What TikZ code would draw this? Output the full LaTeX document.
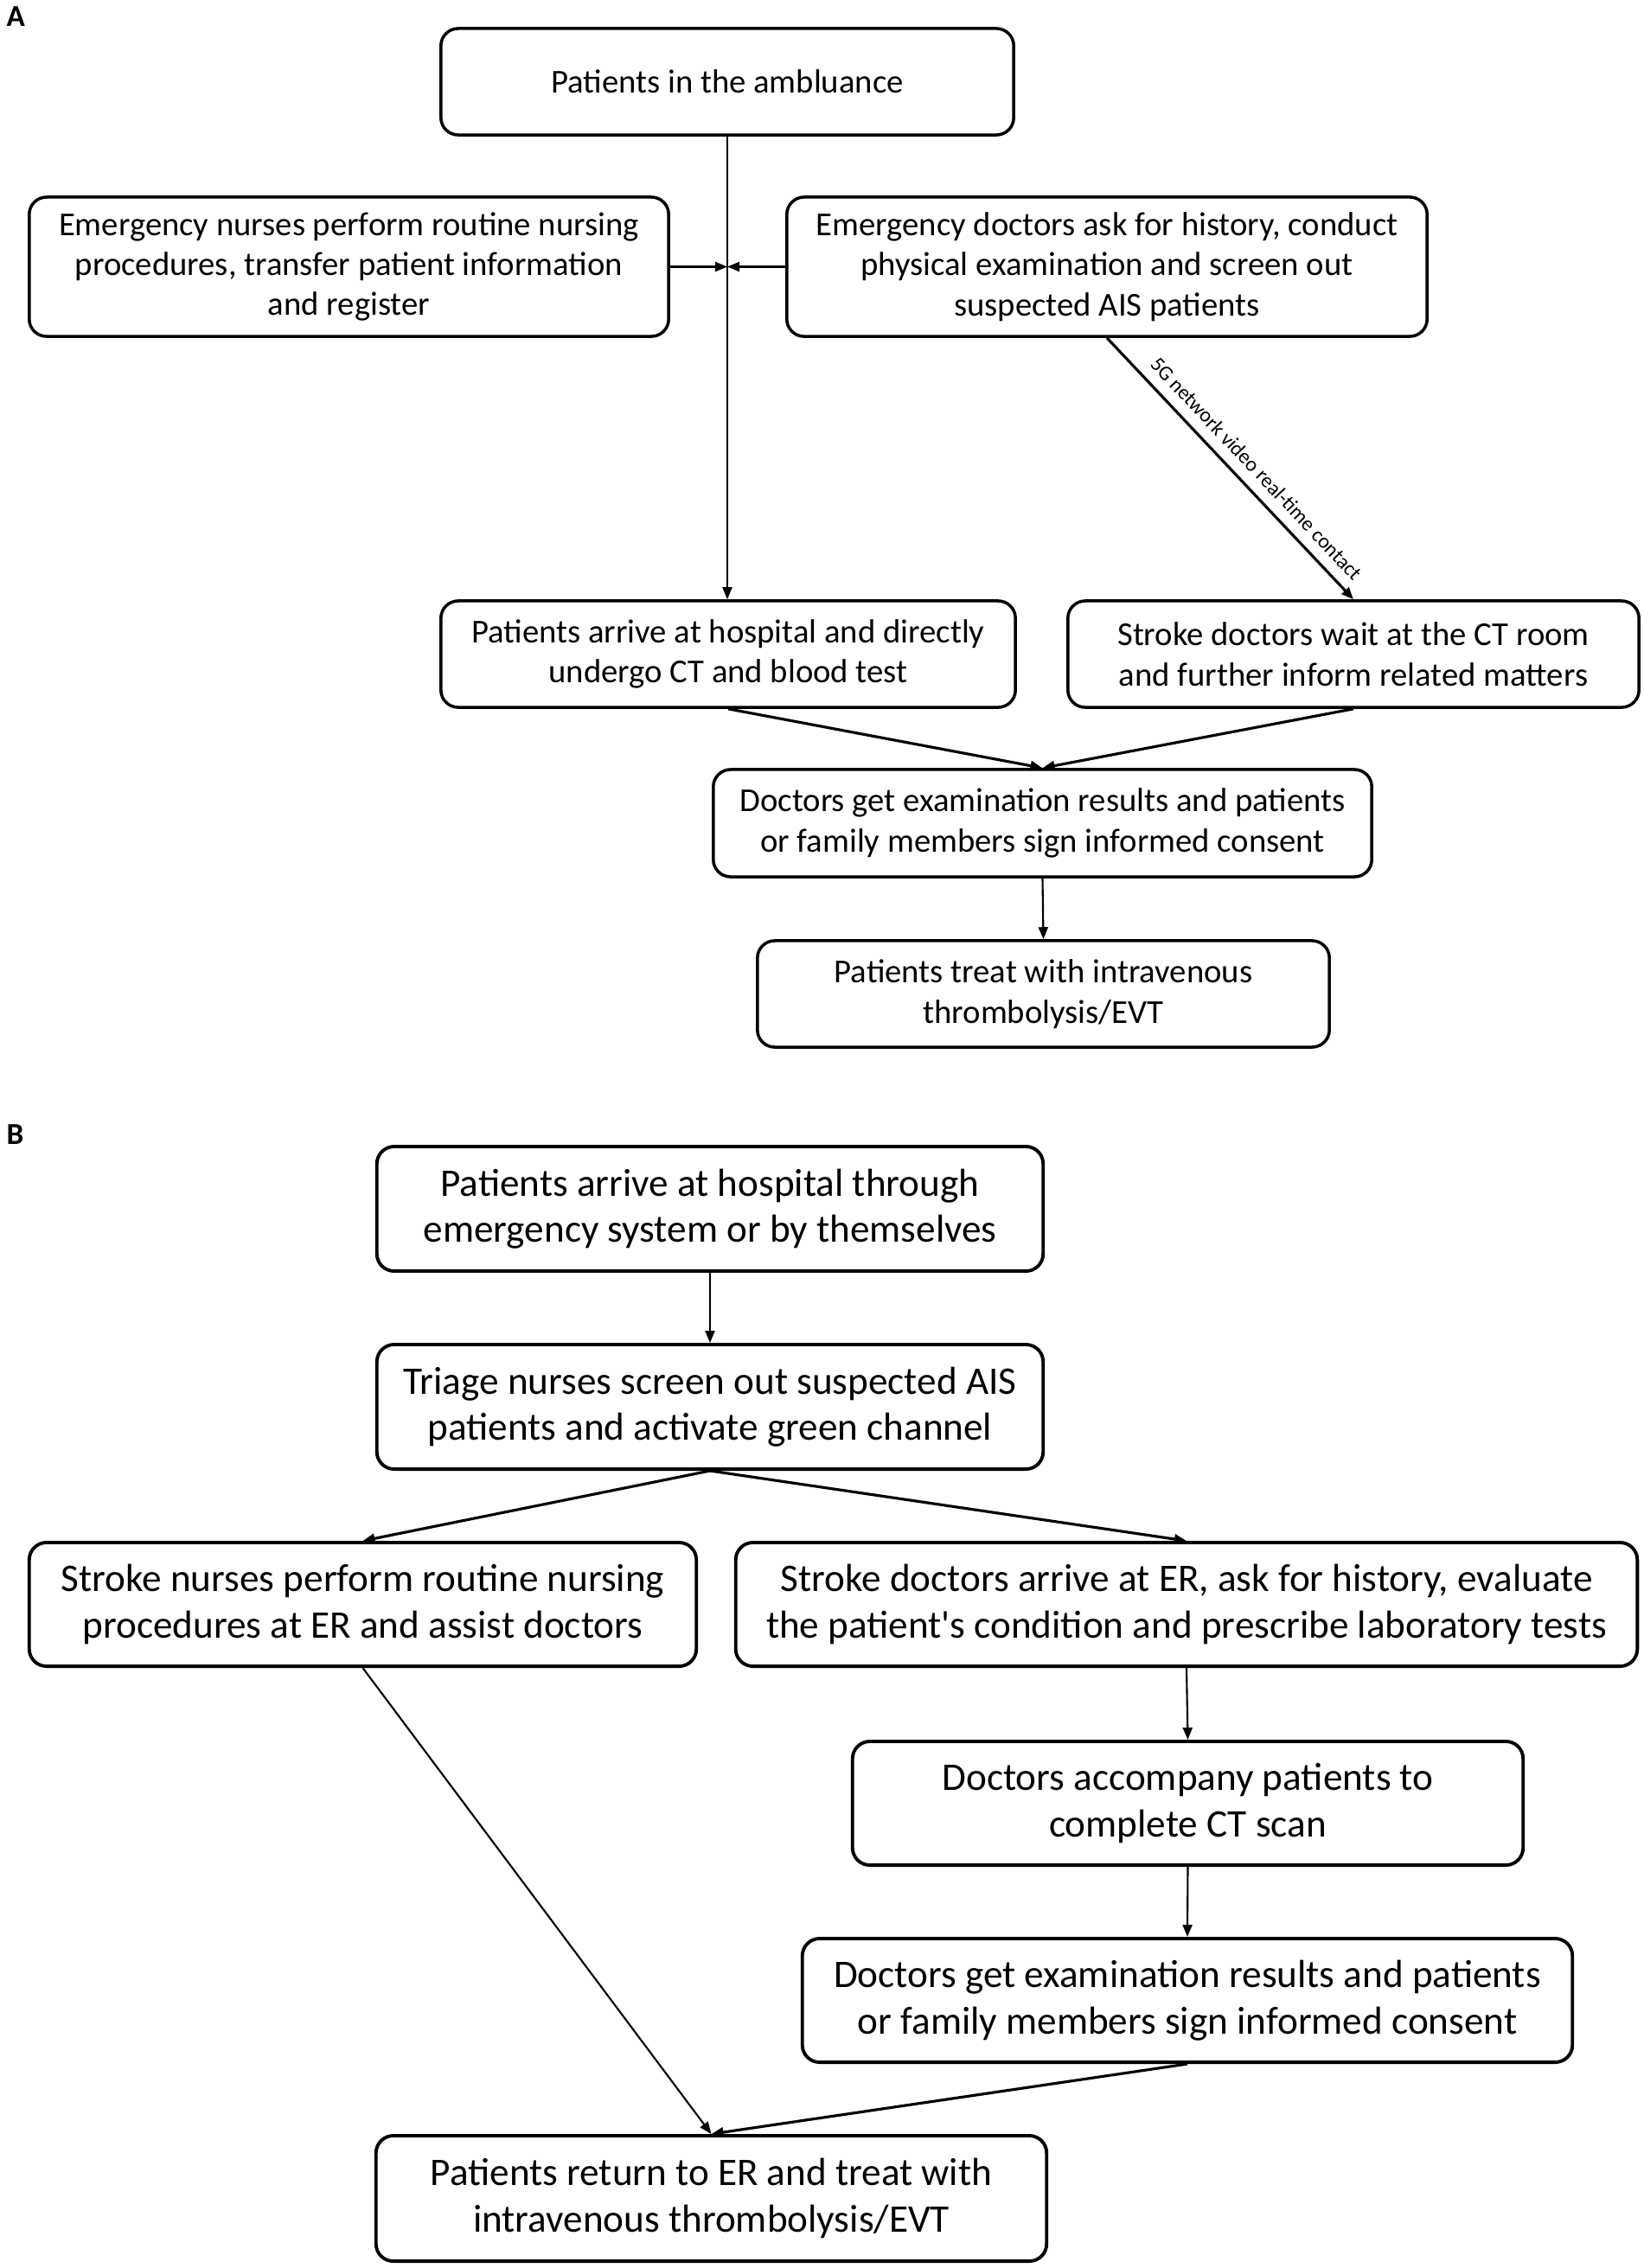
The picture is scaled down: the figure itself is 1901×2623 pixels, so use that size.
\documentclass[tikz,border=0pt]{standalone}
\usepackage{fontspec}
\setmainfont{Carlito}
\usetikzlibrary{arrows.meta}
\begin{document}
\begin{tikzpicture}[x=0.01cm,y=-0.01cm,
  boxa/.style={draw, line width=1pt, rounded corners=0.2cm, inner sep=0pt, align=center,
     font=\fontsize{11}{13.2}\selectfont},
  boxb/.style={draw, line width=1.1pt, rounded corners=0.2cm, inner sep=0pt, align=center,
     font=\fontsize{12.85}{15.2}\selectfont},
  conn/.style={line width=0.6pt, -{Triangle[length=0.14cm,width=0.11cm]}},
  connd/.style={line width=0.9pt, -{Triangle[length=0.14cm,width=0.11cm]}},
  plain/.style={line width=0.6pt},
  panel/.style={font=\fontsize{10}{12}\selectfont\bfseries, inner sep=0pt, anchor=north west}]
\useasboundingbox (0,0) rectangle (1901,2623);
\fill[white] (0,0) rectangle (1901,2623);

% Panel A
\node[panel] (la) at (7,7) {A};
\node[boxa, minimum width=6.62cm, minimum height=1.23cm] (b1) at (841,94.5) {Patients in the ambluance};
\node[boxa, minimum width=7.39cm, minimum height=1.61cm] (b2) at (403.5,308.5) {Emergency nurses perform routine nursing\\procedures, transfer patient information\\and register};
\node[boxa, minimum width=7.40cm, minimum height=1.61cm] (b3) at (1280,308.5) {Emergency doctors ask for history, conduct\\physical examination and screen out\\suspected AIS patients};
\node[boxa, minimum width=6.64cm, minimum height=1.23cm] (b4) at (842,756.5) {Patients arrive at hospital and directly\\undergo CT and blood test};
\node[boxa, minimum width=6.60cm, minimum height=1.23cm] (b5) at (1565,756.5) {Stroke doctors wait at the CT room\\and further inform related matters};
\node[boxa, minimum width=7.61cm, minimum height=1.24cm] (b6) at (1205.5,952) {Doctors get examination results and patients\\or family members sign informed consent};
\node[boxa, minimum width=6.61cm, minimum height=1.23cm] (b7) at (1206.5,1149.5) {Patients treat with intravenous\\thrombolysis/EVT};

\coordinate (j) at (b1.south |- b2.east);
\draw[conn] (b1.south) -- (b1.south |- b4.north);
\draw[conn] (b2.east) -- (j);
\draw[conn] (b3.west) -- (j);
\draw[connd] (b3.south) -- node[sloped, above=3.5pt, pos=0.55, inner sep=0pt, font=\fontsize{6.8}{8}\selectfont] {5G network video real-time contact} (b5.north);
\draw[connd] (b4.south) -- (b6.north);
\draw[connd] (b5.south) -- (b6.north);
\draw[conn] (b6.south) -- (b7.north);

% Panel B
\node[panel] (lb) at (7,1300) {B};
\node[boxb, minimum width=7.70cm, minimum height=1.44cm] (b8) at (821,1398) {Patients arrive at hospital through\\emergency system or by themselves};
\node[boxb, minimum width=7.70cm, minimum height=1.44cm] (b9) at (821,1627) {Triage nurses screen out suspected AIS\\patients and activate green channel};
\node[boxb, minimum width=7.71cm, minimum height=1.43cm] (b10) at (419.5,1855.5) {Stroke nurses perform routine nursing\\procedures at ER and assist doctors};
\node[boxb, minimum width=10.42cm, minimum height=1.43cm] (b11) at (1372,1855.5) {Stroke doctors arrive at ER, ask for history, evaluate\\the patient\textquotesingle s condition and prescribe laboratory tests};
\node[boxb, minimum width=7.75cm, minimum height=1.43cm] (b12) at (1373.5,2085.5) {Doctors accompany patients to\\complete CT scan};
\node[boxb, minimum width=8.90cm, minimum height=1.43cm] (b13) at (1373,2313.5) {Doctors get examination results and patients\\or family members sign informed consent};
\node[boxb, minimum width=7.75cm, minimum height=1.45cm] (b14) at (822.5,2542.5) {Patients return to ER and treat with\\intravenous thrombolysis/EVT};

\draw[conn] (b8.south) -- (b9.north);
\draw[connd] (b9.south) -- (b10.north);
\draw[connd] (b9.south) -- (b11.north);
\draw[conn] (b11.south) -- (b12.north);
\draw[conn] (b12.south) -- (b13.north);
\draw[conn] (b10.south) -- (b14.north);
\draw[connd] (b13.south) -- (b14.north);
\end{tikzpicture}
\end{document}
